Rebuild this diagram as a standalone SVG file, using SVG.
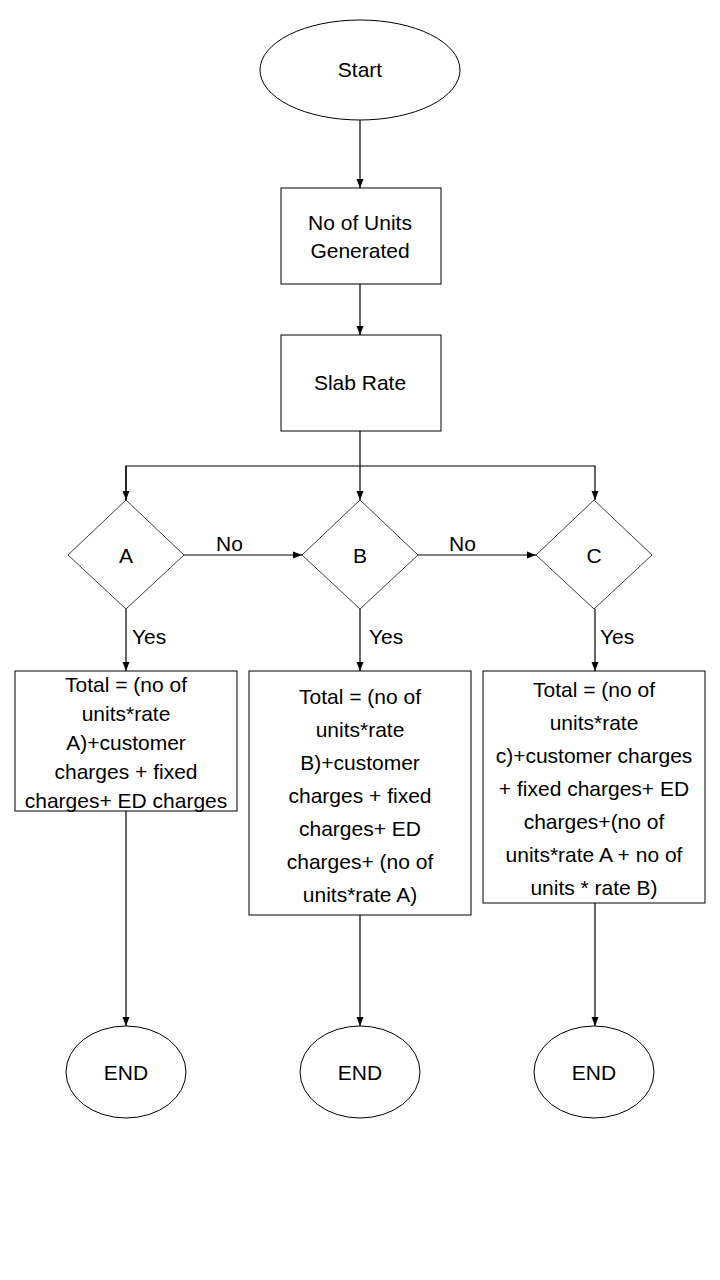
<svg xmlns="http://www.w3.org/2000/svg" width="720" height="1280" viewBox="0 0 720 1280">
<defs>
<marker id="arr" markerWidth="10" markerHeight="10" refX="9" refY="5" orient="auto" markerUnits="userSpaceOnUse">
<path d="M0,1.5 L9,5 L0,8.5 Z" fill="#000"/>
</marker>
<style>
.shape{fill:#fff;stroke:#000;stroke-width:1}
.dia{fill:#fff;stroke:#404040;stroke-width:1}
.t{font-family:"Liberation Sans",Arial,sans-serif;font-size:21px;fill:#000;text-anchor:middle;dominant-baseline:central}
.lbl{font-family:"Liberation Sans",Arial,sans-serif;font-size:21px;fill:#000;dominant-baseline:central}
.c{fill:none;stroke:#000;stroke-width:1.2}
</style>
</defs>
<rect width="720" height="1280" fill="#fff"/>
<g id="connectors">
<line class="c" x1="360" y1="120" x2="360" y2="188" marker-end="url(#arr)"/>
<line class="c" x1="360" y1="284" x2="360" y2="335" marker-end="url(#arr)"/>
<line class="c" x1="360" y1="431" x2="360" y2="500" marker-end="url(#arr)"/>
<polyline class="c" points="126,500 126,466 595,466 595,500" marker-end="url(#arr)"/>
<line class="c" x1="126" y1="466" x2="126" y2="500" marker-end="url(#arr)"/>
<line class="c" x1="184" y1="555" x2="302" y2="555" marker-end="url(#arr)"/>
<line class="c" x1="418" y1="555" x2="536" y2="555" marker-end="url(#arr)"/>
<line class="c" x1="126" y1="609" x2="126" y2="671" marker-end="url(#arr)"/>
<line class="c" x1="360" y1="609" x2="360" y2="671" marker-end="url(#arr)"/>
<line class="c" x1="595" y1="609" x2="595" y2="671" marker-end="url(#arr)"/>
<line class="c" x1="126" y1="811" x2="126" y2="1026" marker-end="url(#arr)"/>
<line class="c" x1="360" y1="915" x2="360" y2="1026" marker-end="url(#arr)"/>
<line class="c" x1="595" y1="903" x2="595" y2="1026" marker-end="url(#arr)"/>
<text class="lbl" x="216" y="543">No</text>
<text class="lbl" x="449" y="543">No</text>
<text class="lbl" x="132" y="636">Yes</text>
<text class="lbl" x="369" y="636">Yes</text>
<text class="lbl" x="600" y="636">Yes</text>
</g>
<g id="start">
<ellipse class="shape" cx="360" cy="70" rx="100" ry="50"/>
<text class="t" x="360" y="69">Start</text>
</g>
<g id="units">
<rect class="shape" x="281" y="188" width="160" height="96"/>
<text class="t" x="360" y="222">No of Units</text>
<text class="t" x="360" y="250">Generated</text>
</g>
<g id="slab">
<rect class="shape" x="281" y="335" width="160" height="96"/>
<text class="t" x="360" y="382">Slab Rate</text>
</g>
<g id="decA">
<polygon class="dia" points="126,500 184,555 126,609 68,555"/>
<text class="t" x="126" y="555">A</text>
</g>
<g id="decB">
<polygon class="dia" points="360,500 418,555 360,609 302,555"/>
<text class="t" x="360" y="555">B</text>
</g>
<g id="decC">
<polygon class="dia" points="594,500 652,555 594,609 536,555"/>
<text class="t" x="594" y="555">C</text>
</g>
<g id="totalA">
<rect class="shape" x="15" y="671" width="222" height="140"/>
<text class="t" x="126" y="684">Total = (no of</text>
<text class="t" x="126" y="713">units*rate</text>
<text class="t" x="126" y="742">A)+customer</text>
<text class="t" x="126" y="771">charges + fixed</text>
<text class="t" x="126" y="800">charges+ ED charges</text>
</g>
<g id="totalB">
<rect class="shape" x="249" y="671" width="222" height="244"/>
<text class="t" x="360" y="696">Total = (no of</text>
<text class="t" x="360" y="729">units*rate</text>
<text class="t" x="360" y="762">B)+customer</text>
<text class="t" x="360" y="795">charges + fixed</text>
<text class="t" x="360" y="828">charges+ ED</text>
<text class="t" x="360" y="861">charges+ (no of</text>
<text class="t" x="360" y="894">units*rate A)</text>
</g>
<g id="totalC">
<rect class="shape" x="483" y="671" width="222" height="232"/>
<text class="t" x="594" y="689">Total = (no of</text>
<text class="t" x="594" y="722">units*rate</text>
<text class="t" x="594" y="755">c)+customer charges</text>
<text class="t" x="594" y="788">+ fixed charges+ ED</text>
<text class="t" x="594" y="821">charges+(no of</text>
<text class="t" x="594" y="854">units*rate A + no of</text>
<text class="t" x="594" y="887">units * rate B)</text>
</g>
<g id="endA">
<ellipse class="shape" cx="126" cy="1072" rx="60" ry="46"/>
<text class="t" x="126" y="1072">END</text>
</g>
<g id="endB">
<ellipse class="shape" cx="360" cy="1072" rx="60" ry="46"/>
<text class="t" x="360" y="1072">END</text>
</g>
<g id="endC">
<ellipse class="shape" cx="594" cy="1072" rx="60" ry="46"/>
<text class="t" x="594" y="1072">END</text>
</g>
</svg>
